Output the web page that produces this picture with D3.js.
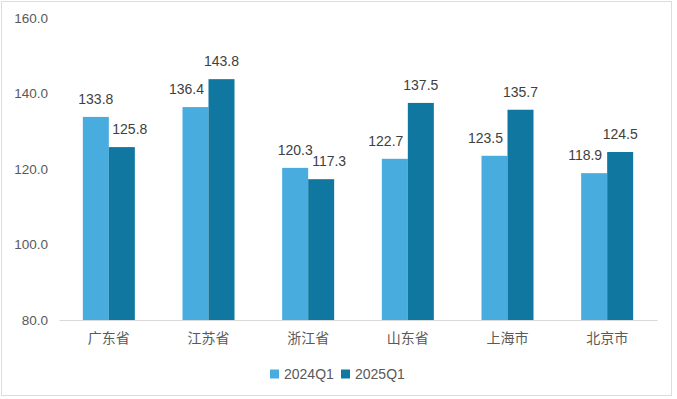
<!DOCTYPE html>
<html>
<head>
<meta charset="utf-8">
<script src="https://cdn.jsdelivr.net/npm/d3@7"></script>
<style>
  body { margin: 0; background: #fff; }
  text { font-family: "Liberation Sans", "Noto Sans CJK SC", sans-serif; }
</style>
</head>
<body>
<div id="chart"></div>
<script>
// chart data
const categories = ["广东省", "江苏省", "浙江省", "山东省", "上海市", "北京市"];
const seriesNames = ["2024Q1", "2025Q1"];
const values2024 = [133.8, 136.4, 120.3, 122.7, 123.5, 118.9];
const values2025 = [125.8, 143.8, 117.3, 137.5, 135.7, 124.5];
const yTicks = [80, 100, 120, 140, 160];

const colors = ["#48ADDE", "#0F77A0"];

const svgWidth = 677;
const svgHeight = 399;

const svg = d3.select("#chart")
  .append("svg")
  .attr("width", svgWidth)
  .attr("height", svgHeight);

// outer frame
svg.append("rect")
  .attr("x", 1.5)
  .attr("y", 1.5)
  .attr("width", 670)
  .attr("height", 394)
  .attr("fill", "none")
  .attr("stroke", "#dcdcdc");

// scales
const xScale = d3.scaleBand()
  .domain(categories)
  .range([59, 657]);

const yScale = d3.scaleLinear()
  .domain([80, 160])
  .range([320, 18]);

const barWidth = 26;
const xSub = d3.scaleBand()
  .domain(seriesNames)
  .range([xScale.bandwidth() / 2 - barWidth, xScale.bandwidth() / 2 + barWidth]);

// y tick labels (no axis line)
svg.append("g")
  .selectAll("text")
  .data(yTicks)
  .enter()
  .append("text")
  .attr("x", 48)
  .attr("y", d => yScale(d))
  .attr("dy", "0.35em")
  .attr("text-anchor", "end")
  .attr("font-size", 13.5)
  .attr("fill", "#595959")
  .text(d => d.toFixed(1));

// x axis
const xAxis = svg.append("g")
  .attr("transform", `translate(0, ${yScale(80)})`)
  .call(d3.axisBottom(xScale).tickSize(0).tickPadding(13));

xAxis.select(".domain").attr("stroke", "#d9d9d9");
xAxis.selectAll("text")
  .attr("font-size", 14)
  .attr("fill", "#595959")
  .style("font-family", "'Noto Sans CJK SC', sans-serif");

// bars
const rows = categories.map((c, i) => ({
  category: c,
  vals: [
    { key: seriesNames[0], value: values2024[i], other: values2025[i], idx: 0 },
    { key: seriesNames[1], value: values2025[i], other: values2024[i], idx: 1 }
  ]
}));

const groups = svg.append("g")
  .selectAll("g")
  .data(rows)
  .enter()
  .append("g")
  .attr("transform", d => `translate(${xScale(d.category)}, 0)`);

groups.selectAll("rect")
  .data(d => d.vals)
  .enter()
  .append("rect")
  .attr("x", d => xSub(d.key))
  .attr("y", d => yScale(d.value))
  .attr("width", xSub.bandwidth())
  .attr("height", d => yScale(80) - yScale(d.value))
  .attr("fill", d => colors[d.idx]);

// value labels, nudged sideways when the neighbour bar is taller
groups.selectAll("text")
  .data(d => d.vals)
  .enter()
  .append("text")
  .attr("x", d => {
    let cx = xSub(d.key) + xSub.bandwidth() / 2;
    if (d.other > d.value) cx += d.idx === 0 ? -9 : 8;
    return cx;
  })
  .attr("y", d => yScale(d.value) - 13)
  .attr("text-anchor", "middle")
  .attr("font-size", 14)
  .attr("fill", "#404040")
  .text(d => d.value.toFixed(1));

// legend
const legend = svg.append("g")
  .attr("transform", "translate(270, 374)");

const legendItems = legend.selectAll("g")
  .data(seriesNames)
  .enter()
  .append("g")
  .attr("transform", (d, i) => `translate(${i * 71}, 0)`);

legendItems.append("rect")
  .attr("x", 0)
  .attr("y", -4.5)
  .attr("width", 9)
  .attr("height", 9)
  .attr("fill", (d, i) => colors[i]);

legendItems.append("text")
  .attr("x", 14)
  .attr("y", 0)
  .attr("dy", "0.35em")
  .attr("font-size", 14)
  .attr("fill", "#595959")
  .text(d => d);
</script>
</body>
</html>
